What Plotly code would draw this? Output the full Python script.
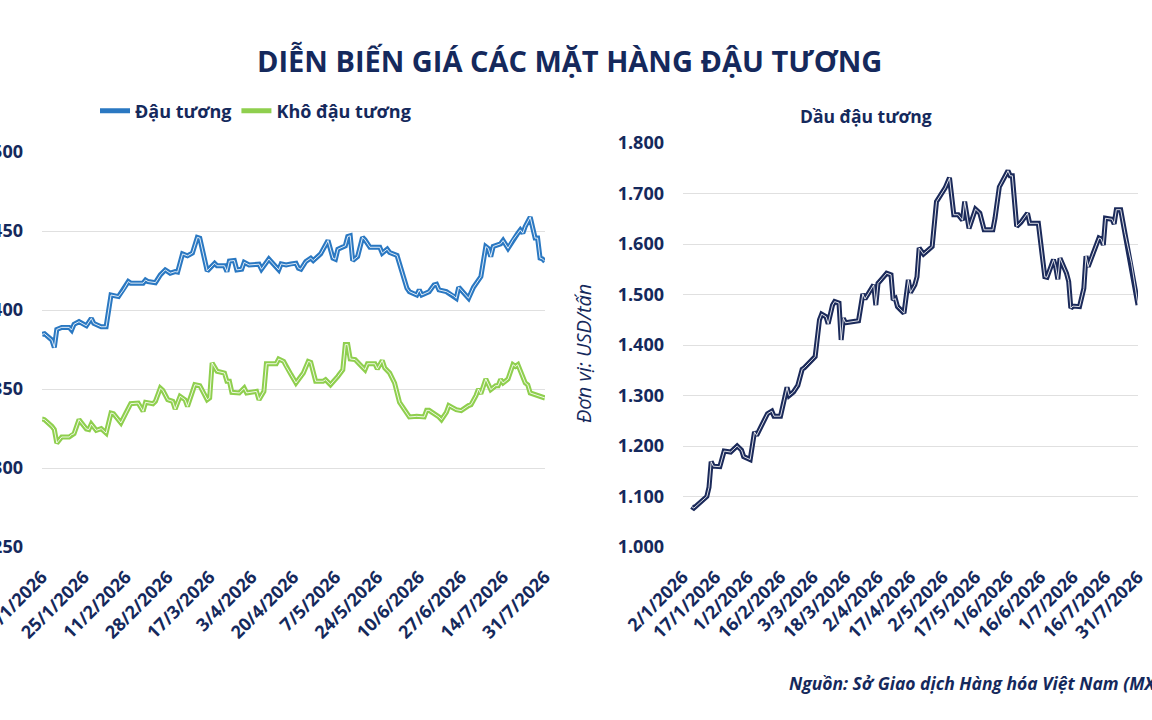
import plotly.graph_objects as go

# ---------------- data ----------------
soy_dates = ["2026-01-08","2026-01-09","2026-01-12","2026-01-13","2026-01-14","2026-01-16","2026-01-19","2026-01-20",
             "2026-01-21","2026-01-23","2026-01-26","2026-01-28","2026-01-29","2026-02-01","2026-02-03","2026-02-05",
             "2026-02-08","2026-02-10","2026-02-12","2026-02-13","2026-02-18","2026-02-19","2026-02-20","2026-02-23",
             "2026-02-25","2026-02-27","2026-03-01","2026-03-03","2026-03-04","2026-03-06","2026-03-08","2026-03-10",
             "2026-03-12","2026-03-13","2026-03-16","2026-03-19","2026-03-20","2026-03-23","2026-03-24","2026-03-25",
             "2026-03-27","2026-03-28","2026-03-30","2026-03-31","2026-04-02","2026-04-06","2026-04-07","2026-04-10",
             "2026-04-14","2026-04-15","2026-04-17","2026-04-19","2026-04-21","2026-04-22","2026-04-23","2026-04-25",
             "2026-04-27","2026-04-28","2026-04-30","2026-05-01","2026-05-04","2026-05-06","2026-05-07","2026-05-08",
             "2026-05-11","2026-05-12","2026-05-13","2026-05-14","2026-05-16","2026-05-18","2026-05-19","2026-05-21",
             "2026-05-25","2026-05-26","2026-05-28","2026-05-29","2026-06-01","2026-06-03","2026-06-05","2026-06-06",
             "2026-06-09","2026-06-10","2026-06-11","2026-06-14","2026-06-16","2026-06-17","2026-06-18","2026-06-21",
             "2026-06-24","2026-06-25","2026-06-26","2026-06-27","2026-06-30","2026-07-02","2026-07-03","2026-07-05",
             "2026-07-07","2026-07-08","2026-07-09","2026-07-10","2026-07-13","2026-07-14","2026-07-16","2026-07-18",
             "2026-07-20","2026-07-21","2026-07-22","2026-07-23","2026-07-25","2026-07-27","2026-07-28","2026-07-29",
             "2026-07-30","2026-07-31"]
soy_values = [384.6,385.0,381.0,376.3,387.7,389.0,389.0,387.3,
              391.0,392.6,390.0,394.7,391.5,389.4,389.4,409.5,
              408.5,412.7,418.0,417.0,417.0,419.0,418.0,417.3,
              422.2,425.4,423.3,424.3,424.0,435.5,434.3,436.0,
              446.0,445.5,424.7,429.6,428.0,428.0,424.3,431.0,
              431.3,425.4,425.8,430.2,428.5,429.0,425.8,432.3,
              425.4,429.2,428.5,429.2,429.6,426.4,425.8,430.7,
              432.8,431.3,434.5,435.5,444.0,432.8,432.1,438.5,
              440.6,446.5,447.0,431.3,433.8,446.0,444.4,439.7,
              439.7,436.0,438.5,436.4,434.5,424.3,413.8,411.6,
              409.5,412.7,409.5,411.6,415.9,416.3,412.7,411.6,
              408.9,407.4,414.4,412.7,407.4,414.4,416.9,421.1,
              440.2,439.0,433.8,440.2,441.9,444.0,439.0,444.4,
              448.6,450.7,448.6,452.9,458.8,445.5,445.5,432.8,
              432.3,430.7]

meal_dates = ["2026-01-08","2026-01-09","2026-01-12","2026-01-13","2026-01-14","2026-01-15","2026-01-16","2026-01-19",
              "2026-01-20","2026-01-21","2026-01-23","2026-01-26","2026-01-27","2026-01-28","2026-01-30","2026-02-01",
              "2026-02-03","2026-02-05","2026-02-06","2026-02-09","2026-02-11","2026-02-13","2026-02-16","2026-02-18",
              "2026-02-19","2026-02-22","2026-02-23","2026-02-25","2026-02-26","2026-02-28","2026-03-02","2026-03-03",
              "2026-03-05","2026-03-07","2026-03-08","2026-03-11","2026-03-13","2026-03-16","2026-03-17","2026-03-18",
              "2026-03-20","2026-03-23","2026-03-24","2026-03-25","2026-03-26","2026-03-29","2026-03-31","2026-04-01",
              "2026-04-05","2026-04-06","2026-04-08","2026-04-09","2026-04-13","2026-04-14","2026-04-16","2026-04-17",
              "2026-04-19","2026-04-21","2026-04-22","2026-04-24","2026-04-26","2026-04-27","2026-04-29","2026-05-02",
              "2026-05-03","2026-05-05","2026-05-08","2026-05-10","2026-05-11","2026-05-12","2026-05-13","2026-05-15",
              "2026-05-17","2026-05-19","2026-05-20","2026-05-23","2026-05-24","2026-05-26","2026-05-27","2026-05-29",
              "2026-05-31","2026-06-02","2026-06-04","2026-06-06","2026-06-09","2026-06-12","2026-06-13","2026-06-14",
              "2026-06-18","2026-06-19","2026-06-21","2026-06-22","2026-06-25","2026-06-27","2026-06-30","2026-07-01",
              "2026-07-03","2026-07-04","2026-07-05","2026-07-07","2026-07-09","2026-07-11","2026-07-12","2026-07-13",
              "2026-07-14","2026-07-16","2026-07-18","2026-07-19","2026-07-20","2026-07-23","2026-07-24","2026-07-25",
              "2026-07-31"]
meal_values = [331.0,330.6,326.4,324.3,315.8,317.5,319.6,319.6,
               321.1,321.7,330.6,324.7,324.3,327.8,323.8,324.9,
               322.1,334.8,334.4,328.5,334.8,340.7,341.1,335.9,
               341.6,340.7,342.2,350.6,349.2,343.2,342.2,337.3,
               345.4,343.2,339.0,352.7,352.1,343.2,344.3,366.5,
               361.2,360.1,354.9,354.9,347.9,347.5,350.6,347.5,
               348.5,343.2,348.5,366.0,366.0,369.0,367.5,364.3,
               359.1,353.8,355.9,360.1,367.5,366.9,354.9,354.9,
               355.9,352.7,358.0,362.2,378.1,378.1,369.0,368.6,
               365.4,362.2,366.0,366.0,362.7,368.1,363.3,360.1,
               353.8,341.6,336.9,332.3,332.7,332.3,336.5,336.5,
               332.3,330.6,335.2,339.5,336.9,336.3,339.5,340.1,
               345.8,350.0,347.0,356.3,349.6,352.1,352.1,356.0,
               353.8,356.3,365.4,364.3,365.4,353.8,352.7,347.5,
               344.3]

oil_dates = ["2026-01-06","2026-01-07","2026-01-13","2026-01-14","2026-01-15","2026-01-16","2026-01-19","2026-01-21",
             "2026-01-24","2026-01-27","2026-01-29","2026-01-30","2026-02-02","2026-02-04","2026-02-05","2026-02-08",
             "2026-02-10","2026-02-12","2026-02-13","2026-02-16","2026-02-19","2026-02-20","2026-02-22","2026-02-24",
             "2026-02-26","2026-02-27","2026-03-02","2026-03-04","2026-03-06","2026-03-07","2026-03-09","2026-03-10",
             "2026-03-12","2026-03-13","2026-03-15","2026-03-16","2026-03-17","2026-03-18","2026-03-24","2026-03-26",
             "2026-03-27","2026-03-31","2026-04-01","2026-04-02","2026-04-04","2026-04-06","2026-04-08","2026-04-09",
             "2026-04-10","2026-04-11","2026-04-14","2026-04-16","2026-04-17","2026-04-19","2026-04-20","2026-04-21",
             "2026-04-23","2026-04-27","2026-04-29","2026-04-30","2026-05-03","2026-05-05","2026-05-07","2026-05-09",
             "2026-05-11","2026-05-12","2026-05-13","2026-05-14","2026-05-17","2026-05-19","2026-05-21","2026-05-25",
             "2026-05-26","2026-05-28","2026-06-01","2026-06-02","2026-06-03","2026-06-05","2026-06-07","2026-06-10",
             "2026-06-11","2026-06-15","2026-06-18","2026-06-19","2026-06-22","2026-06-23","2026-06-24","2026-06-25",
             "2026-06-28","2026-06-29","2026-06-30","2026-07-01","2026-07-04","2026-07-06","2026-07-07","2026-07-08",
             "2026-07-10","2026-07-13","2026-07-14","2026-07-15","2026-07-16","2026-07-19","2026-07-20","2026-07-21",
             "2026-07-23","2026-07-25","2026-07-28","2026-07-31"]
oil_values = [1080,1077,1100,1118,1169,1160,1159,1190,
              1188,1200,1192,1179,1173,1228,1221,1248,
              1264,1269,1259,1259,1316,1300,1307,1320,
              1352,1355,1367,1377,1450,1461,1456,1442,
              1479,1486,1483,1410,1453,1444,1448,1501,
              1491,1519,1479,1522,1532,1542,1539,1489,
              1492,1476,1463,1529,1504,1519,1535,1592,
              1580,1595,1684,1691,1711,1731,1658,1658,
              1647,1684,1658,1631,1669,1661,1628,1628,
              1651,1713,1745,1735,1735,1635,1643,1661,
              1641,1641,1535,1534,1569,1555,1530,1572,
              1542,1526,1473,1477,1476,1512,1576,1555,
              1578,1612,1610,1598,1651,1649,1640,1668,
              1668,1621,1562,1479]

left_tickvals = ["2026-01-08","2026-01-25","2026-02-11","2026-02-28","2026-03-17","2026-04-03","2026-04-20",
                 "2026-05-07","2026-05-24","2026-06-10","2026-06-27","2026-07-14","2026-07-31"]
left_ticktext = ["8/1/2026","25/1/2026","11/2/2026","28/2/2026","17/3/2026","3/4/2026","20/4/2026",
                 "7/5/2026","24/5/2026","10/6/2026","27/6/2026","14/7/2026","31/7/2026"]
right_tickvals = ["2026-01-02","2026-01-17","2026-02-01","2026-02-16","2026-03-03","2026-03-18","2026-04-02",
                  "2026-04-17","2026-05-02","2026-05-17","2026-06-01","2026-06-16","2026-07-01","2026-07-16","2026-07-31"]
right_ticktext = ["2/1/2026","17/1/2026","1/2/2026","16/2/2026","3/3/2026","18/3/2026","2/4/2026",
                  "17/4/2026","2/5/2026","17/5/2026","1/6/2026","16/6/2026","1/7/2026","16/7/2026","31/7/2026"]
left_yticks = [250, 300, 350, 400, 450, 500]
right_yticks = [1000, 1100, 1200, 1300, 1400, 1500, 1600, 1700, 1800]

series_names = ["Đậu tương", "Khô đậu tương", "Dầu đậu tương"]

# ---------------- style ----------------
W, H = 1152, 720
NAVY = "#15295c"
BLUE = "#2a78c2"
GREEN = "#8fcf4e"
OIL = "#1b2a5a"
GRID = "#e0e0e0"
FONT = "Open Sans"

def px(x):
    return x / W

def py(y):
    return 1 - y / H

fig = go.Figure()

def add_double(x, y, color, name, xa, ya, showlegend):
    fig.add_trace(go.Scatter(x=x, y=y, mode="lines", name=name, xaxis=xa, yaxis=ya,
                             line=dict(color=color, width=5), showlegend=showlegend,
                             legendgroup=name, hoverinfo="skip"))
    fig.add_trace(go.Scatter(x=x, y=y, mode="lines", name=name, xaxis=xa, yaxis=ya,
                             line=dict(color="rgba(255,255,255,0.85)", width=1), showlegend=False,
                             legendgroup=name, hoverinfo="skip"))

add_double(soy_dates, soy_values, BLUE, series_names[0], "x", "y", True)
add_double(meal_dates, meal_values, GREEN, series_names[1], "x", "y", True)
add_double(oil_dates, oil_values, OIL, series_names[2], "x2", "y2", False)

tickfont_x = dict(family=FONT, size=18, color=NAVY, weight="bold")
tickfont_y = dict(family=FONT, size=18, color=NAVY, weight="bold")

fig.update_layout(
    width=W, height=H,
    paper_bgcolor="white", plot_bgcolor="white",
    margin=dict(l=0, r=0, t=0, b=0),
    separators=",.",
    xaxis=dict(domain=[px(42), px(545)], type="date", range=["2026-01-08", "2026-07-31"],
               tickvals=left_tickvals, ticktext=left_ticktext, tickangle=-45,
               tickfont=tickfont_x, showgrid=False, zeroline=False, showline=False,
               automargin=False, ticks="", ticklabelstandoff=15, ticklabeloverflow="allow"),
    yaxis=dict(domain=[py(547), py(152)], range=[250, 500], tickvals=left_yticks,
               tickfont=tickfont_y, gridcolor=GRID, gridwidth=1, zeroline=False,
               showline=False, automargin=False, ticklabelstandoff=18, ticklabeloverflow="allow"),
    xaxis2=dict(domain=[px(683), px(1138)], type="date", range=["2026-01-02", "2026-07-31"],
                tickvals=right_tickvals, ticktext=right_ticktext, tickangle=-45,
                tickfont=tickfont_x, showgrid=False, zeroline=False, showline=False,
                automargin=False, ticks="", anchor="y2", ticklabelstandoff=15,
                ticklabeloverflow="allow"),
    yaxis2=dict(domain=[py(547), py(143)], range=[1000, 1800], tickvals=right_yticks,
                tickformat=",.0f", tickfont=tickfont_y, gridcolor=GRID, gridwidth=1,
                zeroline=False, showline=False, automargin=False, anchor="x2",
                ticklabelstandoff=18, ticklabeloverflow="allow"),
    legend=dict(orientation="h", x=px(95), y=py(111), xanchor="left", yanchor="middle",
                font=dict(family=FONT, size=18, color=NAVY, weight="bold"),
                itemwidth=30, bgcolor="rgba(0,0,0,0)", traceorder="normal"),
    showlegend=True,
)

fig.add_annotation(text="<b>DIỄN BIẾN GIÁ CÁC MẶT HÀNG ĐẬU TƯƠNG</b>", xref="paper", yref="paper",
                   x=px(569), y=py(60), xanchor="center", yanchor="middle", showarrow=False,
                   font=dict(family=FONT, size=29, color=NAVY))
fig.add_annotation(text="<b>Dầu đậu tương</b>", xref="paper", yref="paper",
                   x=px(866), y=py(116), xanchor="center", yanchor="middle", showarrow=False,
                   font=dict(family=FONT, size=17.5, color=NAVY))
fig.add_annotation(text="<i>Đơn vị: USD/tấn</i>", xref="paper", yref="paper",
                   x=px(583), y=py(354), xanchor="center", yanchor="middle", showarrow=False,
                   textangle=-90, font=dict(family=FONT, size=20, color=NAVY))
fig.add_annotation(text="<b><i>Nguồn: Sở Giao dịch Hàng hóa Việt Nam (MXV)</i></b>", xref="paper", yref="paper",
                   x=px(787), y=py(683), xanchor="left", yanchor="middle", showarrow=False,
                   font=dict(family=FONT, size=17.5, color=NAVY))

fig.write_html("out.html", config={"displayModeBar": False},
               post_script="document.body.style.margin='0';")
